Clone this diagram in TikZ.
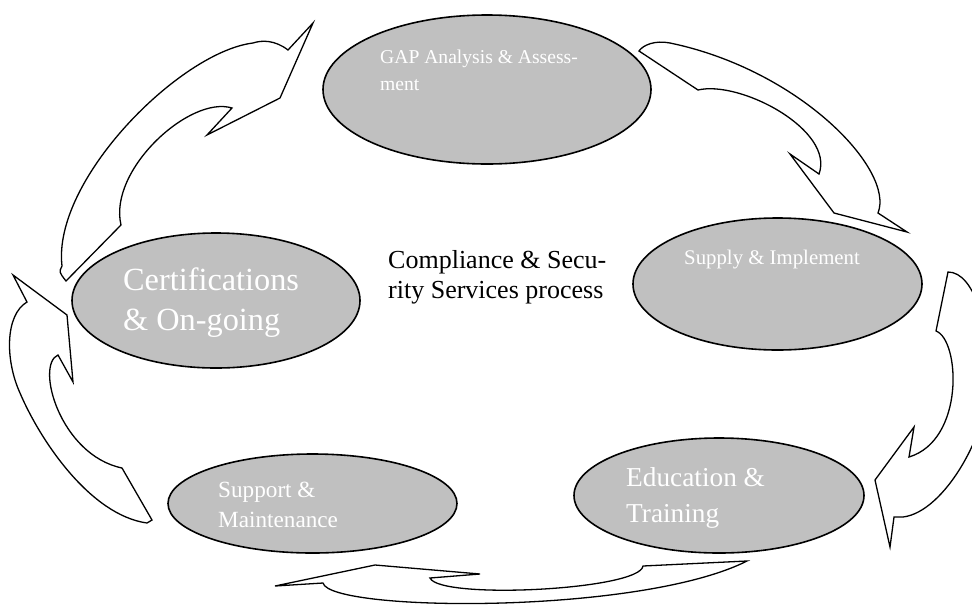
\documentclass[tikz,border=0pt]{standalone}
\usepackage{fontspec}
\setmainfont{Liberation Serif}
\usetikzlibrary{shapes.geometric}
\definecolor{lightgrayfill}{HTML}{C0C0C0}
\tikzset{
  phase/.style={ellipse, draw=black, fill=lightgrayfill, line width=1.6pt, inner sep=0pt},
  blockarrow/.style={draw=black, fill=white, line width=1.3pt, line join=miter},
  phasetext/.style={anchor=base west, inner sep=0pt, text=white, align=left},
}
\newcommand{\twolines}[2]{\begin{tabular}[t]{@{}l@{}}#1\\#2\end{tabular}}
\begin{document}
\begin{tikzpicture}[x=1pt, y=-1pt]
\path[use as bounding box] (0,0) rectangle (972,606);
\clip (0,0) rectangle (972,606);

% ellipses
\node[phase, minimum width=328pt, minimum height=149pt] (gap) at (487,89.5) {};
\node[phase, minimum width=289pt, minimum height=132pt] (supply) at (777.5,284) {};
\node[phase, minimum width=288pt, minimum height=135pt] (cert) at (216,300.5) {};
\node[phase, minimum width=289pt, minimum height=99pt] (support) at (312.5,503.5) {};
\node[phase, minimum width=290pt, minimum height=115pt] (edu) at (719,495.5) {};

% curved block arrows
% Certifications -> GAP
\draw[blockarrow] (66,281) -- (121,225)
  .. controls (108,170) and (190,95) .. (232,108)
  -- (207,135) -- (280,98) -- (313,23) -- (288,50)
  .. controls (275,40) and (262,40) .. (253,43)
  .. controls (180,52) and (52,180) .. (62,266)
  .. controls (59,272) .. (66,281) -- cycle;
% GAP -> Supply
\draw[blockarrow] (639,51) -- (698,90)
  .. controls (740,80) and (835,130) .. (819,174)
  -- (790,154) -- (834,213) -- (907,232) -- (878,213)
  .. controls (895,170) and (800,70) .. (670,43)
  .. controls (655,40) and (643,45) .. (639,51) -- cycle;
% Supply -> Education
\draw[blockarrow] (948,272) -- (936,331)
  .. controls (960,340) and (965,440) .. (909,457)
  -- (914,427) -- (875,480) -- (890,547) -- (894,517) -- (903,517)
  .. controls (945,512) and (990,430) .. (988,380)
  .. controls (990,330) and (975,272) .. (948,272) -- cycle;
% Education -> Support
\draw[blockarrow] (747,561) -- (643,566)
  .. controls (640,590) and (440,600) .. (430,578)
  -- (480,574) -- (375,565) -- (275,586) -- (323,583)
  .. controls (330,612) and (640,615) .. (747,561) -- cycle;
% Support -> Certifications
\draw[blockarrow] (152,520) -- (122,468)
  .. controls (60,455) and (35,365) .. (58,355)
  -- (73,382) -- (67,315) -- (13,275) -- (27,302)
  .. controls (5,315) and (5,360) .. (20,393)
  .. controls (40,440) and (90,515) .. (147,523) -- cycle;

% texts
\node[phasetext, font=\fontsize{19.6}{27}\selectfont] (gaptxt) at (380,63)
  {\twolines{GAP Analysis \& Assess-}{ment}};
\node[phasetext, font=\fontsize{20.8}{27}\selectfont] (supplytxt) at (684,264)
  {Supply \& Implement};
\node[phasetext, font=\fontsize{32.3}{40}\selectfont] (certtxt) at (123,290)
  {\twolines{Certifications}{\& On-going}};
\node[phasetext, font=\fontsize{23.2}{30}\selectfont] (supporttxt) at (218,497)
  {\twolines{Support \&}{Maintenance}};
\node[phasetext, font=\fontsize{27.3}{36}\selectfont] (edutxt) at (626,486)
  {\twolines{Education \&}{Training}};
\node[phasetext, text=black, font=\fontsize{26}{30}\selectfont] (title) at (388,268)
  {\twolines{Compliance \& Secu-}{rity Services process}};
\end{tikzpicture}
\end{document}
